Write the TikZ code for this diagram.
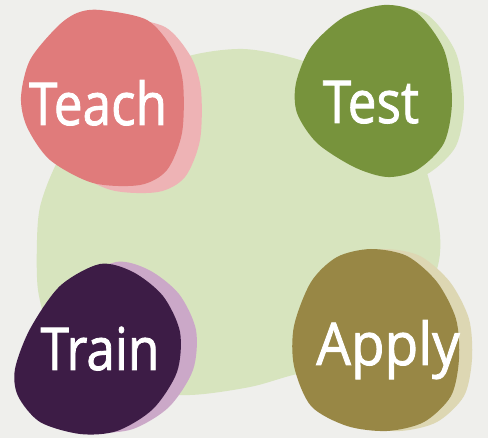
\documentclass[tikz,border=0pt]{standalone}
\usepackage{fontspec}
\setmainfont{Open Sans}
\newfontfamily\wordfont{Open Sans}[FakeBold=1.5]
\definecolor{paper}{HTML}{EFEFEC}
\definecolor{leaf}{HTML}{D7E4BE}
\definecolor{teachmain}{HTML}{E07B7B}
\definecolor{teachshade}{HTML}{EEB3B5}
\definecolor{testmain}{HTML}{77933C}
\definecolor{testshade}{HTML}{D7E4BE}
\definecolor{trainmain}{HTML}{3D1C46}
\definecolor{trainshade}{HTML}{CBA8C8}
\definecolor{applymain}{HTML}{988745}
\definecolor{applyshade}{HTML}{DDD7B3}
\tikzset{word/.style={text=white,inner sep=0pt,anchor=base,font=\wordfont\fontsize{59}{59}\selectfont}}
% blob outlines, in pixels
\newcommand{\teachblob}[1]{\fill[#1] plot[smooth cycle] coordinates {(100,10) (147,20) (173,50) (183,83) (182,133) (167,170) (140,185) (93,183) (50,160) (27,127) (21,97) (30,60) (57,27) (77,13)};}
\newcommand{\testblob}[1]{\fill[#1] plot[smooth cycle] coordinates {(384,5) (417,13) (444,50) (452,100) (444,143) (417,170) (387,177) (354,167) (317,143) (297,113) (296,83) (311,47) (344,17)};}
\newcommand{\trainblob}[1]{\fill[#1] plot[smooth cycle] coordinates {(100,264) (133,272) (163,296) (180,332) (177,372) (153,409) (117,431) (80,434) (40,422) (18,396) (15,369) (30,329) (60,286)};}
\newcommand{\applyblob}[1]{\fill[#1] plot[smooth cycle] coordinates {(371,249) (407,256) (437,282) (456,319) (459,359) (451,396) (424,422) (387,431) (347,426) (311,406) (294,366) (294,326) (311,282) (337,257)};}
\begin{document}
\begin{tikzpicture}[x=1pt,y=-1pt]
  \fill[paper] (0,0) rectangle (488,438);
  \useasboundingbox (0,0) rectangle (488,438);
  % big circle behind
  \fill[leaf] plot[smooth cycle] coordinates {(243,49) (300,60) (360,85) (405,125) (427,173) (440,235) (435,275) (405,325) (350,362) (293,375) (250,387) (190,395) (130,390) (80,365) (50,330) (38,290) (37,240) (40,207) (52,173) (75,130) (120,85) (185,57)};
  % shadows
  \teachblob{teachshade,shift={(18,7)}}
  \testblob{testshade,shift={(12,3)}}
  \trainblob{trainshade,shift={(16,-2)}}
  \applyblob{applyshade,shift={(13,0)}}
  % blobs
  \teachblob{teachmain}
  \testblob{testmain}
  \trainblob{trainmain}
  \applyblob{applymain}
  \node (teach)[word] at (98,125) {\scalebox{0.87}[1]{Teach}};
  \node (test)[word] at (371,123) {\scalebox{0.87}[1]{Test}};
  \node (train)[word] at (100,370) {\scalebox{0.87}[1]{Train}};
  \node (apply)[word] at (388,365) {\scalebox{0.93}[1]{Apply}};
\end{tikzpicture}
\end{document}
